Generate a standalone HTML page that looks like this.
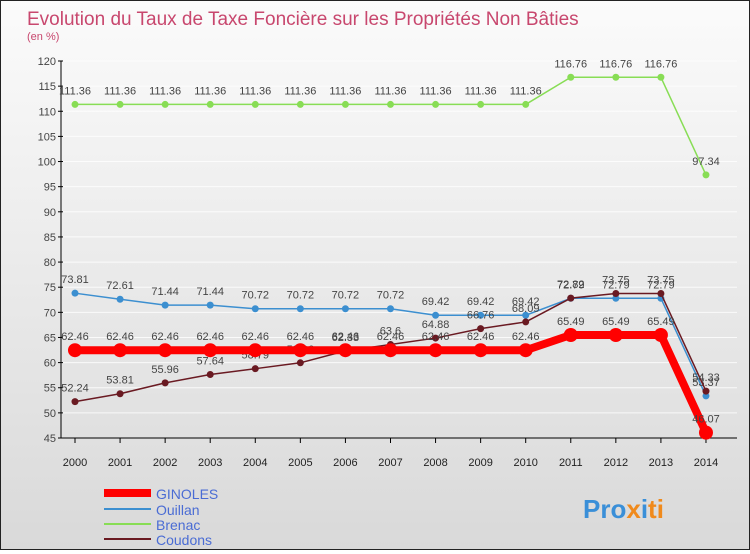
<!DOCTYPE html>
<html><head><meta charset="utf-8">
<style>
html,body{margin:0;padding:0}
body{width:750px;height:550px;overflow:hidden;font-family:"Liberation Sans",sans-serif}
#wrap{position:relative;width:748px;height:548px;border:1px solid #222;background:linear-gradient(#fbfbfb,#d9d9d9)}
</style></head>
<body>
<div id="wrap">
<svg id="chart" width="748" height="548" xmlns="http://www.w3.org/2000/svg">
<text x="26" y="24" font-size="19" fill="#c8476e">Evolution du Taux de Taxe Foncière sur les Propriétés Non Bâties</text>
<text x="26" y="39" font-size="11" fill="#c8476e">(en %)</text>
<g id="grid"></g><g id="axes"></g><g id="series"></g>
<g>
<line x1="103" y1="492" x2="150" y2="492" stroke="#ff0000" stroke-width="8"/>
<text x="155" y="498" font-size="14" fill="#4a6cd4">GINOLES</text>
<line x1="103" y1="508" x2="150" y2="508" stroke="#3c8fd0" stroke-width="2"/>
<text x="155" y="514" font-size="14" fill="#4a6cd4">Ouillan</text>
<line x1="103" y1="523" x2="150" y2="523" stroke="#88dd55" stroke-width="2"/>
<text x="155" y="529" font-size="14" fill="#4a6cd4">Brenac</text>
<line x1="103" y1="538" x2="150" y2="538" stroke="#6a1a22" stroke-width="2"/>
<text x="155" y="544" font-size="14" fill="#4a6cd4">Coudons</text>
</g>
<text x="582" y="517" font-size="26" font-weight="bold" fill="#3a8fd8">Pro<tspan fill="#f08a1c">x</tspan><tspan fill="#3a8fd8">i</tspan><tspan fill="#f08a1c">ti</tspan></text>
</svg>
</div>
<script>
const years=[2000,2001,2002,2003,2004,2005,2006,2007,2008,2009,2010,2011,2012,2013,2014];
const ginoles=[62.46,62.46,62.46,62.46,62.46,62.46,62.46,62.46,62.46,62.46,62.46,65.49,65.49,65.49,46.07];
const ouillan=[73.81,72.61,71.44,71.44,70.72,70.72,70.72,70.72,69.42,69.42,69.42,72.79,72.79,72.79,53.37];
const brenac=[111.36,111.36,111.36,111.36,111.36,111.36,111.36,111.36,111.36,111.36,111.36,116.76,116.76,116.76,97.34];
const coudons=[52.24,53.81,55.96,57.64,58.79,59.96,62.33,63.6,64.88,66.76,68.09,72.82,73.75,73.75,54.33];
const yTicks=[45,50,55,60,65,70,75,80,85,90,95,100,105,110,115,120];
const NS="http://www.w3.org/2000/svg";
function x(i){return 74+i*45.07;}
function y(v){return 437-(v-45)*(377/75);}
function mk(parent,tag,attrs){const e=document.createElementNS(NS,tag);for(const k in attrs)e.setAttribute(k,attrs[k]);parent.appendChild(e);return e;}
const grid=document.getElementById('grid'),axes=document.getElementById('axes'),ser=document.getElementById('series');
yTicks.forEach(t=>{
 const g=mk(grid,'line',{x1:60,x2:736,y1:y(t),y2:y(t),stroke:'#ffffff','stroke-width':1,opacity:0.8});
 
 
 const tk=mk(axes,'line',{x1:57,x2:62,y1:y(t),y2:y(t),stroke:'#000'});
 
 
 const tx=mk(axes,'text',{x:55,y:y(t)+4,'font-size':11,'text-anchor':'end',fill:'#444'});
 tx.textContent=t;
 
 
});
const ya=mk(axes,'line',{x1:60,x2:60,y1:y(120),y2:437,stroke:'#000'});


const xa=mk(axes,'line',{x1:60,x2:736,y1:437,y2:437,stroke:'#000'});


years.forEach((yr,i)=>{
 const tk=mk(axes,'line',{x1:x(i),x2:x(i),y1:437,y2:442,stroke:'#000'});
 
 
 const tx=mk(axes,'text',{x:x(i),y:465,'font-size':11,'text-anchor':'middle',fill:'#222'});
 tx.textContent=yr;
 
 
});
function series(name,vals,color,w,r){
 const g=mk(ser,'g',{});
 
 
 const pl=mk(g,'polyline',{points:vals.map((v,i)=>x(i)+','+y(v)).join(' '),fill:'none',stroke:color,'stroke-width':w,'stroke-linejoin':'round'});
 
 
 vals.forEach((v,i)=>{
  const c=mk(g,'circle',{cx:x(i),cy:y(v),r:r,fill:color});
  
  
  const t=mk(g,'text',{x:x(i),y:y(v)-10,'font-size':11,'text-anchor':'middle',fill:'#444'});
  t.textContent=v.toFixed(2).replace(/\.?0+$/,'');
  
  
 });
}
series('brenac',brenac,'#88dd55',1.5,3.5);
series('ouillan',ouillan,'#3c8fd0',1.5,3.5);
series('coudons',coudons,'#6a1a22',1.5,3.5);
series('ginoles',ginoles,'#ff0000',8,7);
</script>
</body></html>
